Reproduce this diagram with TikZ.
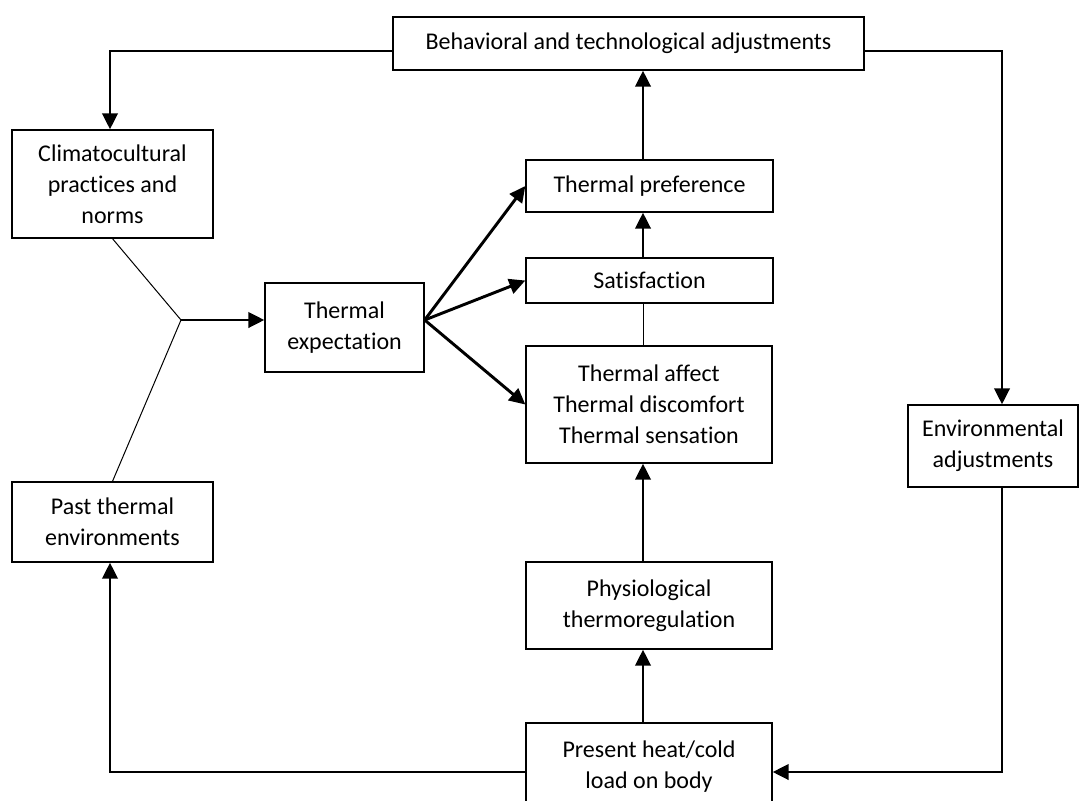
\documentclass[tikz,border=0pt]{standalone}
\usepackage{fontspec}
\setmainfont{Carlito}[Ligatures=NoCommon]
\usetikzlibrary{arrows.meta}
\begin{document}
\begin{tikzpicture}[x=0.75pt,y=-0.75pt,
  box/.style={draw, line width=1pt, align=center, inner sep=0pt, fill=white,
    font=\fontsize{18pt}{23.3pt}\selectfont},
  thickarrow/.style={line width=2.2pt, -{Triangle[length=12pt,width=11.5pt]}},
  thinlink/.style={line width=0.75pt},
]
\useasboundingbox (0,0) rectangle (1089,800);

\node[box, minimum width=353.25pt, minimum height=39.75pt] (beh) at (628.5,43.5) {Behavioral and technological adjustments};
\node[box, minimum width=150.75pt, minimum height=81pt] (clim) at (112.5,184) {Climatocultural\\practices and\\norms};
\node[box, minimum width=150.75pt, minimum height=60pt] (past) at (112.5,522) {Past thermal\\environments};
\node[box, minimum width=119.25pt, minimum height=66.75pt] (expect) at (344.5,327.5) {Thermal\\expectation};
\node[box, minimum width=185.25pt, minimum height=39pt] (pref) at (649.5,186) {Thermal preference};
\node[box, minimum width=185.25pt, minimum height=33.75pt] (sat) at (649.5,280.5) {Satisfaction};
\node[box, minimum width=184.5pt, minimum height=87.75pt] (aff) at (649,404.5) {Thermal affect\\Thermal discomfort\\Thermal sensation};
\node[box, minimum width=127.5pt, minimum height=61.5pt] (env) at (993,446) {Environmental\\adjustments};
\node[box, minimum width=184.5pt, minimum height=65.25pt] (phys) at (649,605.5) {Physiological\\thermoregulation};
\node[box, minimum width=184.5pt, minimum height=66pt] (pres) at (649,767) {Present heat/cold\\load on body};

\coordinate (j) at (181,320);
\coordinate (mx) at (643,0);
\coordinate (rx) at (1002,0);
\coordinate (lx) at (110,0);
\coordinate (ty) at (0,51);
\coordinate (by) at (0,772);

% inputs to expectation
\draw[thinlink] (clim.south) -- (j) -- (past.north);
\draw[thickarrow] (j) -- (j -| expect.west);

% expectation outputs
\draw[thickarrow] (j -| expect.east) -- (pref.west);
\draw[thickarrow] (j -| expect.east) -- (sat.west);
\draw[thickarrow] (j -| expect.east) -- (aff.west);

% middle column
\draw[thickarrow] (pres.north -| mx) -- (phys.south -| mx);
\draw[thickarrow] (phys.north -| mx) -- (aff.south -| mx);
\draw[thinlink] (aff.north -| mx) -- (sat.south -| mx);
\draw[thickarrow] (sat.north -| mx) -- (pref.south -| mx);
\draw[thickarrow] (pref.north -| mx) -- (beh.south -| mx);

% outer loops
\draw[thickarrow] (beh.west |- ty) -| (clim.north -| lx);
\draw[thickarrow] (beh.east |- ty) -| (env.north -| rx);
\draw[thickarrow] (env.south -| rx) |- (pres.east |- by);
\draw[thickarrow] (pres.west |- by) -| (past.south -| lx);
\end{tikzpicture}
\end{document}
